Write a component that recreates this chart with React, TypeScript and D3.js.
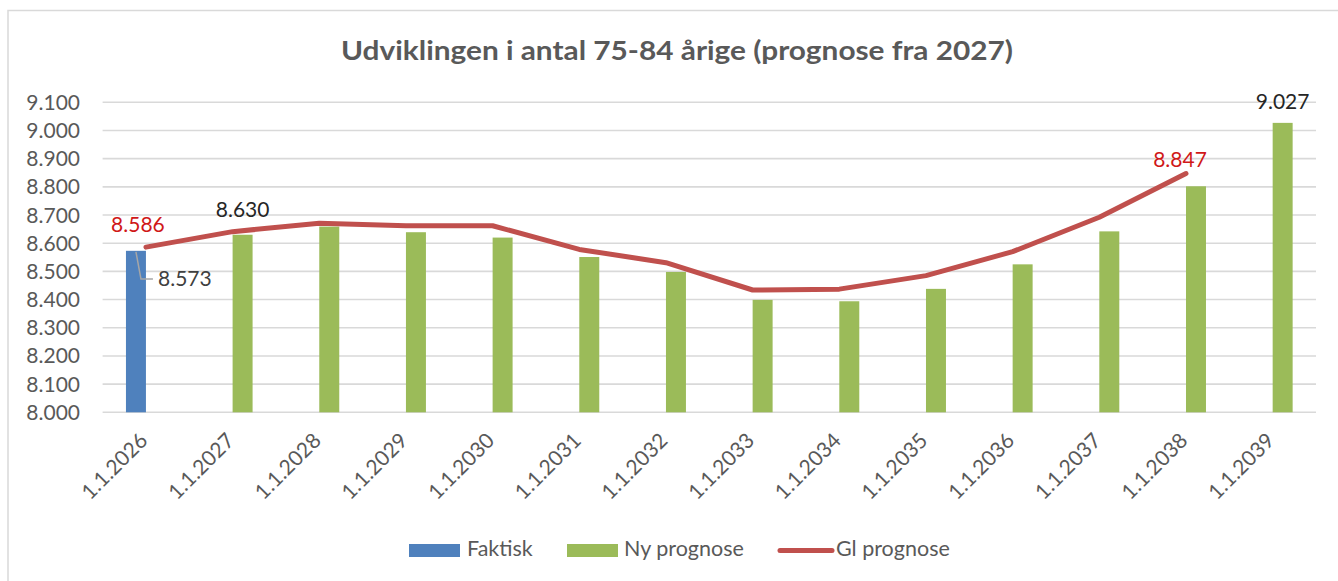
import React from 'react';
import * as d3 from 'd3';

const categories = [
  '1.1.2026', '1.1.2027', '1.1.2028', '1.1.2029', '1.1.2030', '1.1.2031', '1.1.2032',
  '1.1.2033', '1.1.2034', '1.1.2035', '1.1.2036', '1.1.2037', '1.1.2038', '1.1.2039',
];
const faktisk: (number | null)[] = [8573, null, null, null, null, null, null, null, null, null, null, null, null, null];
const nyPrognose: (number | null)[] = [null, 8630, 8659, 8639, 8620, 8551, 8498, 8399, 8394, 8438, 8525, 8642, 8802, 9027];
const glPrognose: (number | null)[] = [8586, 8641, 8671, 8662, 8662, 8578, 8531, 8434, 8437, 8485, 8570, 8692, 8847, null];
const yTicks = [8000, 8100, 8200, 8300, 8400, 8500, 8600, 8700, 8800, 8900, 9000, 9100];
const seriesNames = ['Faktisk', 'Ny prognose', 'Gl prognose'];
const title = 'Udviklingen i antal 75-84 årige (prognose fra 2027)';

const W = 1338;
const H = 581;
const FONT = 'Lato, "Open Sans", sans-serif';
const GRAY = '#595959';
const BLUE = '#4f81bd';
const GREEN = '#9bbb59';
const RED = '#c0504d';
const LABEL_RED = '#d01818';

const locale = d3.formatLocale({ decimal: ',', thousands: '.', grouping: [3], currency: ['', ''] });
const fmt = locale.format(',d');

export default function App() {
  const plotLeft = 102.6;
  const plotRight = 1316;
  const x = d3.scaleBand<string>().domain(categories).range([plotLeft, plotRight])
    .paddingInner(0.539).paddingOuter(0.2695);
  const inner = d3.scaleBand<string>().domain(['Faktisk', 'Ny prognose']).range([0, x.bandwidth()]);
  const y = d3.scaleLinear().domain([8000, 9100]).range([412.3, 102.3]);
  const cx = (c: string) => (x(c) as number) + x.bandwidth() / 2;

  const linePts = categories
    .map((c, i) => ({ c, v: glPrognose[i] }))
    .filter((d) => d.v != null) as { c: string; v: number }[];
  const linePath = d3.line<{ c: string; v: number }>().x((d) => cx(d.c)).y((d) => y(d.v))(linePts) || '';

  const fBar = (i: number) => (x(categories[i]) as number) + (inner('Faktisk') as number) + inner.bandwidth() / 2;
  const nBar = (i: number) => (x(categories[i]) as number) + (inner('Ny prognose') as number) + inner.bandwidth() / 2;

  return (
    <svg width={W} height={H} style={{ position: 'absolute', left: 0, top: 0, background: '#fff' }}
      fontFamily={FONT}>
      <rect x={0} y={0} width={W} height={H} fill="#fff" />
      <rect x={8} y={10.5} width={W + 20} height={H + 20} fill="#fff" stroke="#d9d9d9" strokeWidth={1.5} />
      <text x={677} y={60} textAnchor="middle" fontSize={27} fontWeight={700} fill={GRAY}
        textLength={672} lengthAdjust="spacingAndGlyphs">{title}</text>

      {yTicks.map((t) => (
        <g key={t}>
          <line x1={plotLeft} x2={plotRight} y1={y(t)} y2={y(t)} stroke="#d9d9d9" strokeWidth={1.6} />
          <text x={80} y={y(t)} dy="0.36em" textAnchor="end" fontSize={21} fill={GRAY}>{fmt(t)}</text>
        </g>
      ))}

      {categories.map((c, i) => (
        <g key={c}>
          {faktisk[i] != null && (
            <rect x={(x(c) as number) + (inner('Faktisk') as number)} y={y(faktisk[i] as number)}
              width={inner.bandwidth()} height={y(8000) - y(faktisk[i] as number)} fill={BLUE} />
          )}
          {nyPrognose[i] != null && (
            <rect x={(x(c) as number) + (inner('Ny prognose') as number)} y={y(nyPrognose[i] as number)}
              width={inner.bandwidth()} height={y(8000) - y(nyPrognose[i] as number)} fill={GREEN} />
          )}
          <text transform={`translate(${cx(c) + 3},${442}) rotate(-45)`} textAnchor="end" fontSize={21}
            fill={GRAY}>{c}</text>
        </g>
      ))}

      <path d={linePath} fill="none" stroke={RED} strokeWidth={5} strokeLinejoin="round" strokeLinecap="round" />

      {/* data labels */}
      <polyline points={`${fBar(0)},${y(faktisk[0] as number) + 1} ${fBar(0) + 5},${279} ${fBar(0) + 17},${279}`}
        fill="none" stroke="#a6a6a6" strokeWidth={1.5} />
      <text x={158} y={286} fontSize={21} fill="#404040">{fmt(faktisk[0] as number)}</text>
      <text x={nBar(1)} y={y(nyPrognose[1] as number) - 18} textAnchor="middle" fontSize={21} fill="#262626">
        {fmt(nyPrognose[1] as number)}</text>
      <text x={nBar(13)} y={y(nyPrognose[13] as number) - 14} textAnchor="middle" fontSize={21} fill="#262626">
        {fmt(nyPrognose[13] as number)}</text>
      <text x={cx(categories[0]) - 8} y={y(glPrognose[0] as number) - 15} textAnchor="middle" fontSize={21}
        fill={LABEL_RED}>{fmt(glPrognose[0] as number)}</text>
      <text x={cx(categories[12]) - 6} y={y(glPrognose[12] as number) - 7} textAnchor="middle" fontSize={21}
        fill={LABEL_RED}>{fmt(glPrognose[12] as number)}</text>

      {/* legend */}
      <g>
        <rect x={409} y={544} width={51} height={13} fill={BLUE} />
        <text x={467} y={556} fontSize={21.5} fill={GRAY}>{seriesNames[0]}</text>
        <rect x={567} y={544} width={51} height={13} fill={GREEN} />
        <text x={624} y={556} fontSize={21.5} fill={GRAY}>{seriesNames[1]}</text>
        <line x1={780} x2={832} y1={550.5} y2={550.5} stroke={RED} strokeWidth={5} strokeLinecap="round" />
        <text x={836} y={556} fontSize={21.5} fill={GRAY}>{seriesNames[2]}</text>
      </g>
    </svg>
  );
}
